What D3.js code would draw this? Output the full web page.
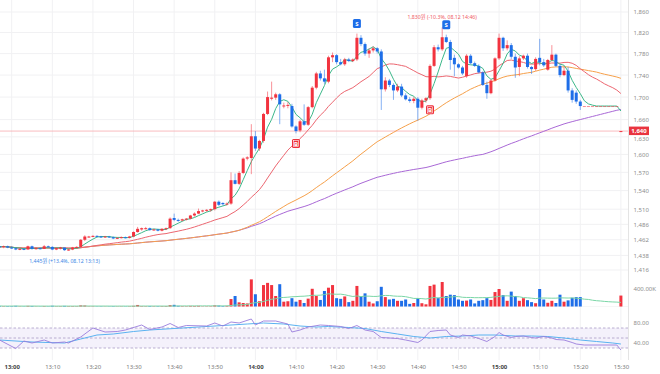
<!DOCTYPE html>
<html><head><meta charset="utf-8">
<script src="https://cdn.jsdelivr.net/npm/d3@7/dist/d3.min.js"></script>
<style>
html,body{margin:0;padding:0;background:#fff;}
svg{display:block;font-family:"Noto Sans","Noto Sans CJK KR",sans-serif;}
</style></head><body>
<svg id="chart" width="660" height="374"></svg>
<script>
// ---------- DATA ----------
const times = ["12:57","12:58","12:59",
"13:00","13:01","13:02","13:03","13:04","13:05","13:06","13:07","13:08","13:09",
"13:10","13:11","13:12","13:13","13:14","13:15","13:16","13:17","13:18","13:19",
"13:20","13:21","13:22","13:23","13:24","13:25","13:26","13:27","13:28","13:29",
"13:30","13:31","13:32","13:33","13:34","13:35","13:36","13:37","13:38","13:39",
"13:40","13:41","13:42","13:43","13:44","13:45","13:46","13:47","13:48","13:49",
"13:50","13:51","13:52","13:53","13:54","13:55","13:56","13:57","13:58","13:59",
"14:00","14:01","14:02","14:03","14:04","14:05","14:06","14:07","14:08","14:09",
"14:10","14:11","14:12","14:13","14:14","14:15","14:16","14:17","14:18","14:19",
"14:20","14:21","14:22","14:23","14:24","14:25","14:26","14:27","14:28","14:29",
"14:30","14:31","14:32","14:33","14:34","14:35","14:36","14:37","14:38","14:39",
"14:40","14:41","14:42","14:43","14:44","14:45","14:46","14:47","14:48","14:49",
"14:50","14:51","14:52","14:53","14:54","14:55","14:56","14:57","14:58","14:59",
"15:00","15:01","15:02","15:03","15:04","15:05","15:06","15:07","15:08","15:09",
"15:10","15:11","15:12","15:13","15:14","15:15","15:16","15:17","15:18","15:19",
"15:20","15:21","15:22","15:23","15:24","15:25","15:26","15:27","15:28","15:29","15:30"];

const opens = [1452,1451,1452,1450,1449,1447,1448,1447,1452,1448,1449,1448,1452,
1451,1447,1449,1450,1446,1447,1450,1451,1462,1467,
1467,1468,1467,1466,1467,1466,1464,1465,1466,1465,
1467,1474,1478,1480,1480,1477,1478,1476,1479,1480,
1496,1493,1492,1494,1495,1500,1503,1507,1508,1509,
1510,1522,1520,1518,1519,1557,1551,1569,1593,1594,
1631,1610,1623,1670,1697,1699,1705,1684,1685,1684,
1648,1641,1657,1651,1682,1717,1743,1734,1728,1773,
1777,1764,1760,1769,1766,1769,1810,1798,1780,1786,
1790,1784,1714,1730,1722,1712,1719,1703,1696,1693,
1697,1681,1694,1698,1757,1792,1788,1811,1802,1772,
1760,1754,1738,1776,1762,1757,1745,1722,1707,1730,
1771,1810,1790,1796,1774,1755,1771,1776,1755,1751,
1772,1764,1750,1768,1778,1757,1740,1748,1712,1708,
1692,1684,1684,1684,1684,1684,1684,1684,1684,1684,1640];

const highs = [1454,1453,1453,1452,1450,1449,1449,1453,1453,1450,1450,1454,1453,
1452,1450,1451,1450,1448,1451,1452,1463,1469,1468,
1469,1469,1468,1468,1468,1467,1466,1467,1467,1468,
1475,1482,1481,1482,1481,1479,1479,1480,1481,1497,
1503,1495,1495,1496,1501,1505,1511,1509,1510,1511,
1523,1524,1521,1521,1570,1568,1572,1595,1597,1652,
1640,1625,1672,1710,1728,1708,1707,1690,1691,1688,
1650,1660,1687,1684,1720,1746,1748,1750,1776,1782,
1779,1770,1772,1772,1771,1818,1815,1801,1790,1794,
1792,1788,1736,1733,1725,1724,1724,1707,1700,1700,
1700,1697,1700,1760,1796,1797,1830,1816,1806,1778,
1762,1757,1779,1779,1765,1760,1747,1728,1732,1773,
1818,1812,1805,1800,1780,1775,1778,1780,1757,1773,
1808,1770,1770,1796,1780,1760,1756,1755,1716,1712,
1695,1684,1684,1684,1684,1684,1684,1684,1684,1684,1640];

const lows = [1450,1449,1449,1448,1446,1446,1446,1447,1447,1447,1447,1448,1450,
1446,1446,1447,1445,1445,1446,1449,1450,1460,1465,
1466,1466,1465,1465,1465,1463,1463,1464,1464,1464,
1466,1473,1476,1478,1476,1476,1475,1475,1477,1479,
1491,1490,1491,1492,1494,1498,1502,1505,1506,1506,
1508,1515,1516,1516,1517,1550,1549,1567,1590,1567,
1606,1606,1620,1668,1694,1695,1652,1680,1680,1646,
1636,1638,1649,1649,1680,1714,1730,1724,1725,1764,
1760,1758,1757,1764,1764,1766,1794,1776,1772,1782,
1780,1677,1710,1718,1695,1709,1700,1694,1690,1689,
1658,1678,1690,1695,1755,1784,1785,1800,1750,1738,
1752,1740,1735,1760,1755,1743,1720,1697,1705,1728,
1768,1785,1786,1770,1735,1738,1768,1752,1742,1748,
1758,1755,1748,1765,1755,1736,1738,1708,1690,1688,
1677,1684,1684,1684,1684,1684,1684,1684,1684,1684,1640];

const closes = [1451,1452,1450,1449,1447,1448,1447,1452,1448,1449,1448,1452,1451,
1447,1449,1450,1446,1447,1450,1451,1462,1467,1467,
1468,1467,1466,1467,1466,1464,1465,1466,1465,1467,
1474,1479,1480,1480,1477,1478,1476,1479,1480,1495,
1493,1492,1494,1495,1500,1503,1507,1508,1509,1510,
1522,1517,1518,1519,1557,1551,1569,1593,1595,1631,
1610,1623,1670,1700,1699,1705,1687,1685,1686,1648,
1640,1657,1651,1682,1717,1743,1734,1728,1773,1777,
1764,1760,1769,1766,1769,1810,1798,1780,1786,1790,
1784,1714,1730,1722,1712,1719,1703,1696,1693,1697,
1681,1694,1698,1757,1792,1788,1811,1802,1768,1760,
1754,1743,1776,1762,1757,1745,1722,1707,1730,1771,
1810,1790,1796,1774,1754,1771,1776,1755,1751,1770,
1764,1758,1768,1778,1757,1740,1748,1712,1695,1692,
1684,1684,1684,1684,1684,1684,1684,1684,1684,1684,1640];

// volume in thousands of shares
const volumes = [12,8,10,9,15,6,5,14,12,5,4,10,6,
16,7,8,14,9,10,8,25,22,6,
7,5,6,4,5,8,5,6,5,7,
15,35,10,8,12,8,9,10,11,30,
38,15,10,8,14,12,15,6,7,8,
25,20,12,15,170,240,95,80,70,620,
280,120,490,540,490,240,510,110,120,190,
110,150,80,180,405,240,150,355,430,490,
190,175,230,100,130,470,240,300,110,70,
120,450,215,160,175,130,130,160,60,80,
190,75,50,470,500,200,560,240,270,260,
160,130,135,160,70,130,145,190,150,330,
400,260,130,340,240,130,190,145,100,75,
400,160,85,130,80,270,110,140,200,215,
215,0,0,0,0,0,0,0,0,0,250];

const priceTicks = [1860,1820,1780,1740,1700,1660,1630,1600,1570,1540,1510,1486,1462,1438,1416];
const timeTicks = ["13:00","13:10","13:20","13:30","13:40","13:50","14:00","14:10","14:20","14:30","14:40","14:50","15:00","15:10","15:20","15:30"];
const volumeTicks = [400];
const rsiTicks = [80,40];
const rsiGuides = [70,50,30];

const rsiTimes = ["12:57","13:01","13:03","13:05","13:08","13:10","13:13","13:14","13:17","13:20","13:23","13:26","13:28","13:32","13:34","13:37","13:39","13:41","13:43","13:48","13:50","13:52","13:54","13:56","13:59","14:00","14:02","14:05","14:08","14:09","14:11","14:13","14:16","14:18","14:21","14:23","14:25","14:27","14:29","14:31","14:35","14:37","14:40","14:41","14:43","14:45","14:47","14:48","14:50","14:51","14:53","14:55","14:56","14:57","14:59","15:00","15:01","15:03","15:04","15:06","15:08","15:09","15:11","15:13","15:14","15:16","15:18","15:19","15:21","15:29","15:30"];
const rsiValues = [46,29,44,40,46,40,42,40,52,70,62,63,66,76,67,72,79,71,75,74,80,74,82,80,88,76,84,84,78,62,66,72,76,75,73,69,75,66,63,51,49,46,41,46,63,65,66,56,51,56,54,49,46,43,53,61,56,51,53,54,51,50,53,50,47,46,41,38,36,36,26];
const signalTimes = ["12:57","13:05","13:13","13:17","13:21","13:25","13:30","13:34","13:38","13:42","13:46","13:50","13:54","13:58","14:02","14:07","14:11","14:15","14:18","14:23","14:27","14:31","14:35","14:39","14:43","14:47","14:51","14:55","14:59","15:04","15:08","15:12","15:16","15:20","15:24","15:28","15:30"];
const signalValues = [46,42,40,48,56,58,63,66,68,70,72,74,76,78,80,78,74,72,73,71,69,63,58,53,50,53,54,56,56,54,54,53,50,46,43,40,38];

const tradeSignals = [{time:"14:10",type:"B"},{time:"14:25",type:"S"},{time:"14:43",type:"B"},{time:"14:47",type:"S"}];
const lastPrice = 1640;
const highNote = {time:"14:46", price:1830, text:"1,830원 (-10.3%, 08.12 14:46)"};
const lowNote = {time:"13:13", price:1445, text:"1,445원 (+13.4%, 08.12 13:13)"};
const maPeriods = [120,60,20,5];
const maColors = ["#a968d6","#f6a04a","#ec6670","#3db88a"];
const volMaPeriod = 20;

// ---------- CHART ----------
const UP="#f2333f", DOWN="#1e6ee8";
const svg = d3.select("#chart");
const parse = d3.timeParse("%H:%M");
const data = times.map((t,i)=>({t:parse(t),o:opens[i],h:highs[i],l:lows[i],c:closes[i],v:volumes[i]}));

const x = d3.scaleTime().domain([parse("13:00"),parse("15:30")]).range([11.7,620.9]);
const yP = d3.scaleLog().domain([1416,1860]).range([270,12]);
const yV = d3.scaleLinear().domain([0,400]).range([306.5,289]);
const yR = d3.scaleLinear().domain([0,100]).range([363,313]);
const AX = 628.5;

const defs = svg.append("defs");
defs.append("clipPath").attr("id","cp").append("rect").attr("x",0).attr("y",0).attr("width",AX).attr("height",276);
defs.append("clipPath").attr("id","cv").append("rect").attr("x",0).attr("y",276).attr("width",AX).attr("height",31);
defs.append("clipPath").attr("id","cr").append("rect").attr("x",0).attr("y",310).attr("width",AX).attr("height",52);

// grid
const grid = svg.append("g");
grid.selectAll(".vg").data(timeTicks).join("line")
  .attr("x1",d=>x(parse(d))).attr("x2",d=>x(parse(d))).attr("y1",0).attr("y2",360)
  .attr("stroke","#f1f1f3").attr("stroke-width",1);
grid.selectAll(".hg").data(priceTicks).join("line")
  .attr("x1",0).attr("x2",AX).attr("y1",d=>yP(d)).attr("y2",d=>yP(d))
  .attr("stroke","#f1f1f3").attr("stroke-width",1);

// price panel
const pg = svg.append("g").attr("clip-path","url(#cp)");
pg.append("line").attr("x1",0).attr("x2",AX).attr("y1",yP(lastPrice)).attr("y2",yP(lastPrice))
  .attr("stroke","#f6a9ae").attr("stroke-width",0.8);

function sma(arr,n){return arr.map((_,i)=>d3.mean(arr.slice(Math.max(0,i-n+1),i+1)));}
maPeriods.forEach((p,k)=>{
  const ma = sma(closes,p);
  pg.append("path").datum(data.map((d,i)=>[d.t,ma[i]]))
    .attr("d",d3.line().x(d=>x(d[0])).y(d=>yP(d[1])))
    .attr("fill","none").attr("stroke",maColors[k]).attr("stroke-width",1);
});

const cg = pg.append("g");
cg.selectAll("line").data(data).join("line")
  .attr("x1",d=>x(d.t)).attr("x2",d=>x(d.t)).attr("y1",d=>yP(d.h)).attr("y2",d=>yP(d.l))
  .attr("stroke",d=>d.c>=d.o?UP:DOWN).attr("stroke-width",0.9).attr("stroke-opacity",0.6);
cg.selectAll("rect").data(data).join("rect")
  .attr("x",d=>x(d.t)-1.5).attr("width",3)
  .attr("y",d=>yP(Math.max(d.o,d.c)))
  .attr("height",d=>Math.max(1,yP(Math.min(d.o,d.c))-yP(Math.max(d.o,d.c))))
  .attr("fill",d=>d.c>=d.o?UP:DOWN)
  .attr("fill-opacity",d=>d.v===0?0.55:1);

tradeSignals.forEach(s=>{
  const d = data.find(e=>+e.t===+parse(s.time));
  const cx = x(d.t);
  const cy = s.type==="S" ? yP(d.h)-10 : yP(d.l)+10;
  const col = s.type==="S" ? "#1e6ee8" : "#ee2f3b";
  pg.append("rect").attr("x",cx-4).attr("y",cy-4.5).attr("width",8).attr("height",9).attr("rx",1.5).attr("fill",col);
  if(s.type==="B") pg.append("rect").attr("x",cx-2.6).attr("y",cy-3.1).attr("width",5.2).attr("height",6.2).attr("fill","none").attr("stroke","#fff").attr("stroke-width",0.6);
  pg.append("text").attr("x",cx).attr("y",cy+2.2).attr("text-anchor","middle")
    .attr("font-size",6).attr("font-weight",700).attr("fill","#fff").text(s.type);
});

pg.append("text").attr("x",x(parse(highNote.time))).attr("y",yP(highNote.price)-8)
  .attr("text-anchor","middle").attr("font-size",5.2).attr("fill","#ef5a63").text(highNote.text);
pg.append("text").attr("x",x(parse(lowNote.time))).attr("y",yP(lowNote.price)+12)
  .attr("text-anchor","middle").attr("font-size",5.2).attr("fill","#3d87e6").text(lowNote.text);

// volume panel
const vg = svg.append("g").attr("clip-path","url(#cv)");
vg.append("line").attr("x1",0).attr("x2",AX).attr("y1",yV(0)+0.5).attr("y2",yV(0)+0.5).attr("stroke","#ececec");
vg.selectAll("rect").data(data.filter(d=>d.v>0)).join("rect")
  .attr("x",d=>x(d.t)-1.5).attr("width",3)
  .attr("y",d=>yV(d.v)).attr("height",d=>yV(0)-yV(d.v))
  .attr("fill",d=>d.c>=d.o?UP:DOWN);
const vma = sma(volumes,volMaPeriod);
vg.append("path").datum(data.map((d,i)=>[d.t,vma[i]]))
  .attr("d",d3.line().x(d=>x(d[0])).y(d=>yV(d[1])))
  .attr("fill","none").attr("stroke","#7ad6a6").attr("stroke-width",1);

// indicator panel
const rg = svg.append("g").attr("clip-path","url(#cr)");
rg.append("rect").attr("x",0).attr("width",AX).attr("y",yR(70)).attr("height",yR(30)-yR(70)).attr("fill","#f4f1fb");
rg.selectAll(".gd").data(rsiGuides).join("line")
  .attr("x1",0).attr("x2",AX).attr("y1",d=>yR(d)).attr("y2",d=>yR(d))
  .attr("stroke","#a99cc6").attr("stroke-width",0.8).attr("stroke-dasharray","2.5,2");
rg.append("path").datum(signalTimes.map((t,i)=>[parse(t),signalValues[i]]))
  .attr("d",d3.line().x(d=>x(d[0])).y(d=>yR(d[1])))
  .attr("fill","none").attr("stroke","#5ab2f0").attr("stroke-width",1);
rg.append("path").datum(rsiTimes.map((t,i)=>[parse(t),rsiValues[i]]))
  .attr("d",d3.line().x(d=>x(d[0])).y(d=>yR(d[1])))
  .attr("fill","none").attr("stroke","#9a7ddc").attr("stroke-width",0.9);

svg.append("line").attr("x1",AX).attr("x2",AX).attr("y1",0).attr("y2",360).attr("stroke","#e4e4e4");

function styleAxis(g){
  g.select(".domain").remove();
  g.attr("font-family",'"Noto Sans",sans-serif').attr("font-size",6);
  g.selectAll("text").attr("fill","#8d8d8d");
}
const pa = svg.append("g").attr("transform",`translate(${AX},0)`)
  .call(d3.axisRight(yP).tickValues(priceTicks).tickFormat(d3.format(",")).tickSize(0).tickPadding(5))
  .call(styleAxis);
// the 1,630 label sits just under the last-price badge
pa.selectAll(".tick").filter(d=>d===1630).select("text").attr("dy","0.32em").attr("y",2);
svg.append("g").attr("transform",`translate(${AX},0)`)
  .call(d3.axisRight(yV).tickValues(volumeTicks).tickFormat(d=>d3.format(".2f")(d)+"K").tickSize(0).tickPadding(5))
  .call(styleAxis);
svg.append("g").attr("transform",`translate(${AX},0)`)
  .call(d3.axisRight(yR).tickValues(rsiTicks).tickFormat(d3.format(".2f")).tickSize(0).tickPadding(5))
  .call(styleAxis);

const tg = svg.append("g").attr("transform","translate(0,362)")
  .call(d3.axisBottom(x).tickValues(timeTicks.map(parse)).tickFormat(d3.timeFormat("%H:%M")).tickSize(0).tickPadding(3))
  .call(styleAxis);
tg.selectAll("text").attr("fill",d=>d.getMinutes()===0?"#444":"#7a7a7a").attr("font-weight",d=>d.getMinutes()===0?700:400);

const by = yP(lastPrice);
svg.append("rect").attr("x",AX+0.5).attr("y",by-4.5).attr("width",20).attr("height",8.5).attr("fill","#e9343f");
svg.append("text").attr("x",AX+10.5).attr("y",by+2).attr("text-anchor","middle")
  .attr("font-size",6).attr("font-weight",700).attr("fill","#fff").text(d3.format(",")(lastPrice));
</script>
</body></html>
